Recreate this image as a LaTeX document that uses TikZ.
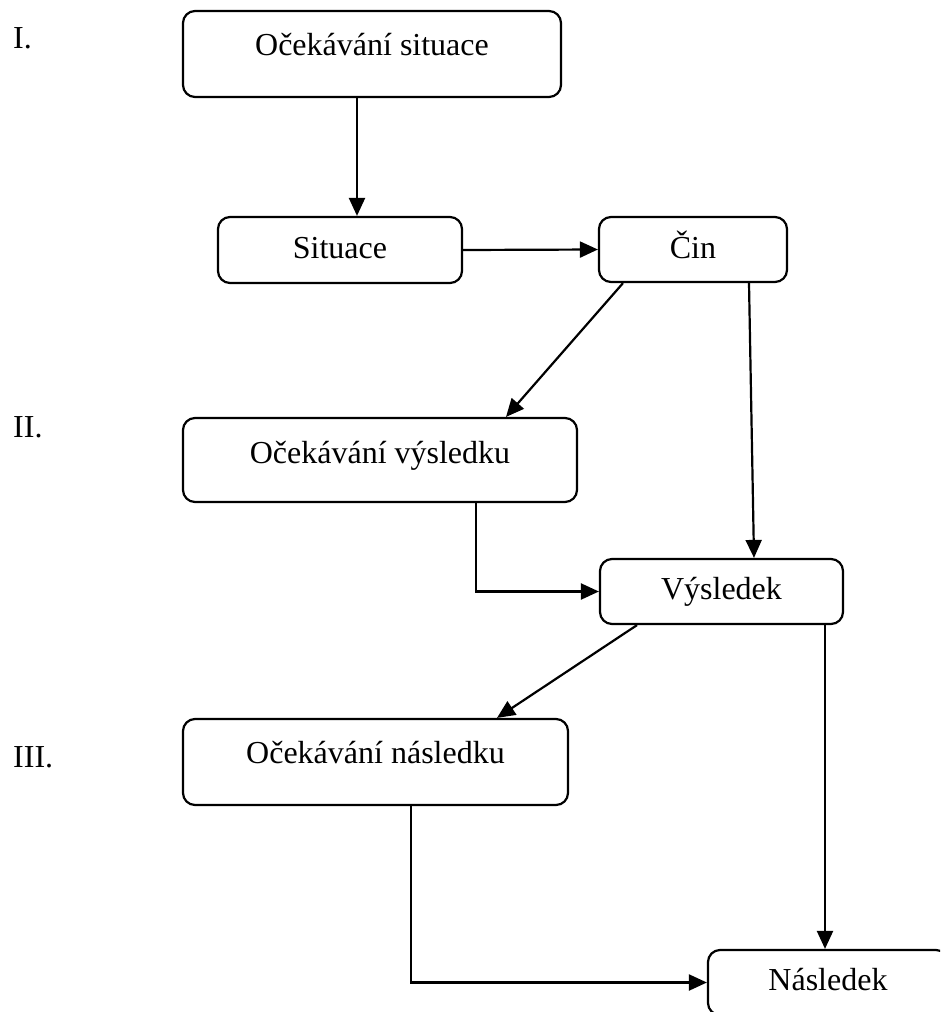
\documentclass[tikz,border=0pt]{standalone}
\usepackage{fontspec}
\setmainfont{Liberation Serif}
\usetikzlibrary{arrows.meta}
\begin{document}
\begin{tikzpicture}[x=1pt,y=-1pt,
  box/.style={draw, line width=2.2pt, rounded corners=12pt, inner sep=0pt,
    text height=22pt, text depth=6pt,
    font=\fontsize{32}{38}\selectfont},
  lvl/.style={anchor=base west, inner sep=0pt, font=\fontsize{32}{38}\selectfont},
  arr/.style={line width=2.2pt, -{Triangle[length=18pt,width=16pt]}}]
\clip (0,0) rectangle (940,1012);
\fill[white] (0,0) rectangle (940,1012);
% level labels
\node[lvl] (L1) at (13,48) {I.};
\node[lvl] (L2) at (13,437) {II.};
\node[lvl] (L3) at (13,767) {III.};
% boxes
\node[box, minimum width=378pt, minimum height=86pt, text depth=19pt] (B1) at (372,54) {Očekávání situace};
\node[box, minimum width=244pt, minimum height=66pt] (B2) at (340,250) {Situace};
\node[box, minimum width=188pt, minimum height=65pt, text height=23pt, text depth=5pt] (B3) at (693,249.5) {Čin};
\node[box, minimum width=394pt, minimum height=84pt, text depth=15pt] (B4) at (380,460) {Očekávání výsledku};
\node[box, minimum width=243pt, minimum height=65pt] (B5) at (721.5,591.5) {Výsledek};
\node[box, minimum width=385pt, minimum height=86pt, text depth=19pt] (B6) at (375.5,762) {Očekávání následku};
\node[box, minimum width=240pt, minimum height=65pt] (B7) at (828,982.5) {Následek};
% connectors
\draw[arr] ([xshift=-15pt]B1.south) -- ([xshift=-15pt]B1.south |- B2.north);
\draw[arr] (B2.east) -- (B3.west);
\draw[arr] ([xshift=-70pt]B3.south) -- ([xshift=126pt]B4.north);
\draw[arr] ([xshift=56pt]B3.south) -- ([xshift=32.5pt]B5.north);
\draw[arr] ([xshift=96pt]B4.south) |- (B5.west);
\draw[arr] ([xshift=-84.5pt]B5.south) -- ([xshift=121.5pt]B6.north);
\draw[arr] ([xshift=103.5pt]B5.south) -- ([xshift=103.5pt]B5.south |- B7.north);
\draw[arr] ([xshift=35.5pt]B6.south) |- (B7.west);
\end{tikzpicture}
\end{document}
